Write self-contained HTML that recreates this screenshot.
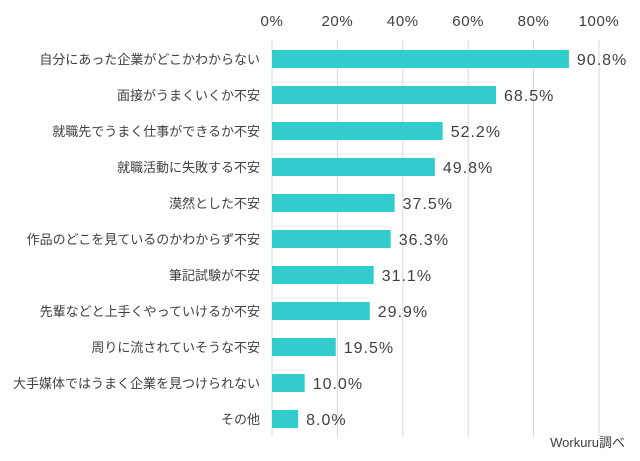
<!DOCTYPE html>
<html><head><meta charset="utf-8"><style>
body{margin:0;background:#fff;}
svg text{font-family:"Liberation Sans","Noto Sans CJK JP",sans-serif;fill:#404040;}
</style></head><body>
<svg width="640" height="456" id="chart"></svg>
<script>
const categories=["自分にあった企業がどこかわからない","面接がうまくいくか不安","就職先でうまく仕事ができるか不安","就職活動に失敗する不安","漠然とした不安","作品のどこを見ているのかわからず不安","筆記試験が不安","先輩などと上手くやっていけるか不安","周りに流されていそうな不安","大手媒体ではうまく企業を見つけられない","その他"];
const values=[90.8,68.5,52.2,49.8,37.5,36.3,31.1,29.9,19.5,10.0,8.0];
const ticks=[0,20,40,60,80,100];
const svg=document.getElementById('chart');
const NS='http://www.w3.org/2000/svg';
const x=v=>272+v*3.27;
const y=i=>50+i*36;
function mk(t,a){const e=document.createElementNS(NS,t);for(const k in a)e.setAttribute(k,a[k]);svg.appendChild(e);return e;}
ticks.forEach(t=>{
  const g=mk('line',{x1:x(t),x2:x(t),y1:40,y2:437,stroke:'#d9d9d9','stroke-width':1});
  
  
  const l=mk('text',{x:x(t),y:26,'text-anchor':'middle','font-size':15,'letter-spacing':0.6,fill:'#595959'});
  l.textContent=t+'%';
  
  
});
categories.forEach((c,i)=>{
  const b=mk('rect',{x:x(0),y:y(i),width:x(values[i])-x(0),height:18,fill:'#33cccc'});
  
  
  const l=mk('text',{x:260,y:y(i)+14,'text-anchor':'end','font-size':13});
  l.textContent=c;
  
  
  const v=mk('text',{x:x(values[i])+8,y:y(i)+15,'font-size':16,'letter-spacing':1});
  v.textContent=values[i].toFixed(1)+'%';
  
  
});
const s=mk('text',{x:625,y:447,'text-anchor':'end','font-size':13,fill:'#000'});
s.textContent='Workuru調べ';


</script>
</body></html>
